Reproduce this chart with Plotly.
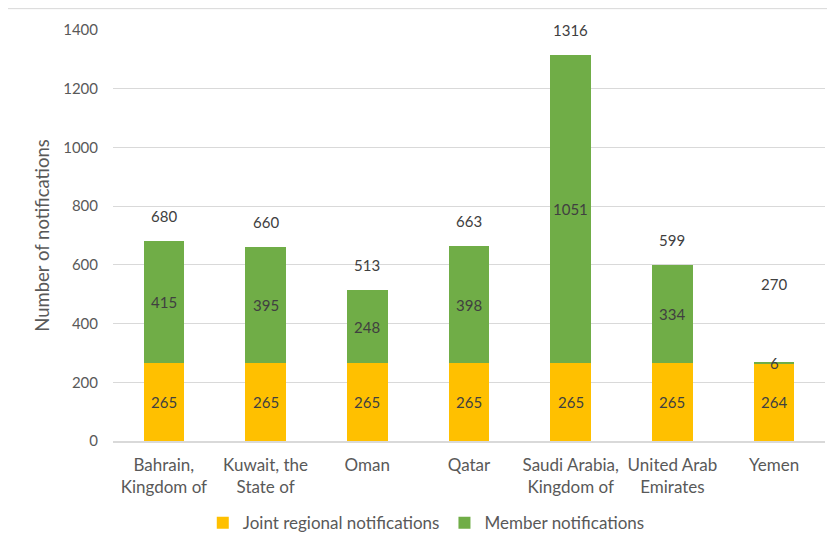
import plotly.graph_objects as go

categories = ["Bahrain,<br>Kingdom of", "Kuwait, the<br>State of", "Oman", "Qatar",
              "Saudi Arabia,<br>Kingdom of", "United Arab<br>Emirates", "Yemen"]
joint_regional = [265, 265, 265, 265, 265, 265, 264]
member = [415, 395, 248, 398, 1051, 334, 6]
totals = [680, 660, 513, 663, 1316, 599, 270]

FONT = "Lato"
LABEL_COLOR = "#404040"
TICK_COLOR = "#595959"

fig = go.Figure()
fig.add_trace(go.Bar(x=categories, y=joint_regional, name="Joint regional notifications",
                     marker=dict(color="#FFC000", line=dict(width=0))))
fig.add_trace(go.Bar(x=categories, y=member, name="Member notifications",
                     marker=dict(color="#70AD47", line=dict(width=0))))

annotations = []
for c, j, m, t in zip(categories, joint_regional, member, totals):
    annotations.append(dict(x=c, y=j / 2, text=str(j), showarrow=False,
                            font=dict(family=FONT, size=15, color=LABEL_COLOR),
                            xref="x", yref="y", yanchor="middle"))
    annotations.append(dict(x=c, y=j + m / 2, text=str(m), showarrow=False,
                            font=dict(family=FONT, size=15, color=LABEL_COLOR),
                            xref="x", yref="y", yanchor="middle"))
    # the total is lifted further when the top segment is too thin to hold its own label
    annotations.append(dict(x=c, y=t, text=str(t), showarrow=False,
                            yshift=78 if m < 50 else 25,
                            font=dict(family=FONT, size=15, color=LABEL_COLOR),
                            xref="x", yref="y", yanchor="middle"))

fig.update_layout(
    barmode="stack",
    bargap=0.6,
    width=835, height=550,
    margin=dict(l=105, r=18, t=19, b=117),
    paper_bgcolor="white", plot_bgcolor="white",
    font=dict(family=FONT, size=15, color=TICK_COLOR),
    annotations=annotations,
    legend=dict(orientation="h", x=0.44, xanchor="center", y=-0.2, yanchor="middle",
                font=dict(family=FONT, size=17, color=TICK_COLOR),
                itemwidth=30, tracegroupgap=0, traceorder="normal"),
    shapes=[dict(type="rect", xref="paper", yref="paper",
                 x0=-0.151, x1=1.05, y0=-0.32, y1=1.052,
                 line=dict(color="#D9D9D9", width=1), fillcolor="rgba(0,0,0,0)", layer="below")],
)
fig.update_xaxes(showgrid=False, showline=True, linecolor="#D9D9D9", linewidth=1.5,
                 ticks="", ticklabelstandoff=8,
                 tickfont=dict(family=FONT, size=17, color=TICK_COLOR))
fig.update_yaxes(range=[0, 1400], dtick=200, showgrid=True, gridcolor="#D9D9D9", gridwidth=1,
                 zeroline=False, showline=False, ticks="", ticklabelstandoff=14,
                 tickfont=dict(family=FONT, size=15, color=TICK_COLOR),
                 title=dict(text="Number of notifications", standoff=8,
                            font=dict(family=FONT, size=18.5, color=TICK_COLOR)))

fig.write_html("out.html")
